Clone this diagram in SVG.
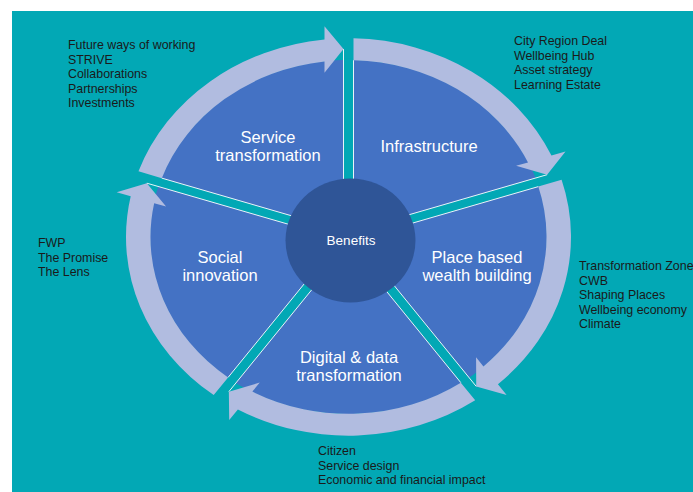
<svg xmlns="http://www.w3.org/2000/svg" xmlns:xlink="http://www.w3.org/1999/xlink" width="693" height="492" viewBox="0 0 693 492">
<style>
.lbl{font-family:"Liberation Sans",Arial,sans-serif;font-size:16.5px;fill:#ffffff;text-anchor:middle}
.lst{font-family:"Liberation Sans",Arial,sans-serif;font-size:12.4px;fill:#1a1a1a}
.band{fill:#02A8B5}
.edge{stroke:#ffffff;stroke-width:1;vector-effect:non-scaling-stroke;opacity:0.9}
.ring{fill:#B1BCE0}
</style>
<defs>
<path id="seg" d="M 5,-222.44 A 222.5 222.5 0 0 1 202.96,-91.18 L 217.03,-95.75 L 198.6,-69.79 L 167.58,-79.69 L 179.51,-83.56 A 198 198 0 0 0 5,-197.94 Z"/>
<g id="div"><rect class="band" x="-5" y="-200" width="10" height="200"/><line class="edge" x1="-5" y1="0" x2="-5" y2="-210.44"/><line class="edge" x1="5" y1="0" x2="5" y2="-198"/></g>
</defs>
<rect x="0" y="0" width="693" height="492" fill="#ffffff"/>
<rect x="12" y="11" width="681" height="481" fill="#02A8B5"/>
<g id="wheel" transform="translate(348.5,237) scale(1,0.893)">
<circle cx="0" cy="0" r="198.5" fill="#4472C4"/>
<use xlink:href="#div"/>
<use xlink:href="#div" transform="rotate(72)"/>
<use xlink:href="#div" transform="rotate(144)"/>
<use xlink:href="#div" transform="rotate(216)"/>
<use xlink:href="#div" transform="rotate(288)"/>
</g>
<g id="connectors" transform="translate(348.5,237) scale(1,0.893)">
<use xlink:href="#seg" class="ring"/>
<use xlink:href="#seg" class="ring" transform="rotate(72)"/>
<use xlink:href="#seg" class="ring" transform="rotate(144)"/>
<use xlink:href="#seg" class="ring" transform="rotate(216)"/>
<use xlink:href="#seg" class="ring" transform="rotate(288)"/>
</g>
<g id="benefits">
<ellipse cx="350.5" cy="240.5" rx="65" ry="62" fill="#2F5597"/>
<text x="351" y="245" class="lbl" style="font-size:13.5px">Benefits</text>
</g>
<g id="service-transformation">
<text x="268" y="143" class="lbl">Service</text>
<text x="268" y="161" class="lbl">transformation</text>
<text class="lst"><tspan x="68" y="49">Future ways of working</tspan><tspan x="68" y="63.5">STRIVE</tspan><tspan x="68" y="78">Collaborations</tspan><tspan x="68" y="92.5">Partnerships</tspan><tspan x="68" y="107">Investments</tspan></text>
</g>
<g id="infrastructure">
<text x="429" y="152" class="lbl">Infrastructure</text>
<text class="lst"><tspan x="514" y="45">City Region Deal</tspan><tspan x="514" y="59.5">Wellbeing Hub</tspan><tspan x="514" y="74">Asset strategy</tspan><tspan x="514" y="88.5">Learning Estate</tspan></text>
</g>
<g id="place-based-wealth-building">
<text x="477" y="263" class="lbl">Place based</text>
<text x="477" y="281" class="lbl">wealth building</text>
<text class="lst"><tspan x="579" y="270">Transformation Zone</tspan><tspan x="579" y="284.5">CWB</tspan><tspan x="579" y="299">Shaping Places</tspan><tspan x="579" y="313.5">Wellbeing economy</tspan><tspan x="579" y="328">Climate</tspan></text>
</g>
<g id="digital-data-transformation">
<text x="349" y="363" class="lbl">Digital &amp; data</text>
<text x="349" y="381" class="lbl">transformation</text>
<text class="lst"><tspan x="318" y="455">Citizen</tspan><tspan x="318" y="469.5">Service design</tspan><tspan x="318" y="484">Economic and financial impact</tspan></text>
</g>
<g id="social-innovation">
<text x="220" y="263" class="lbl">Social</text>
<text x="220" y="281" class="lbl">innovation</text>
<text class="lst"><tspan x="38" y="247">FWP</tspan><tspan x="38" y="261.5">The Promise</tspan><tspan x="38" y="276">The Lens</tspan></text>
</g>
</svg>
